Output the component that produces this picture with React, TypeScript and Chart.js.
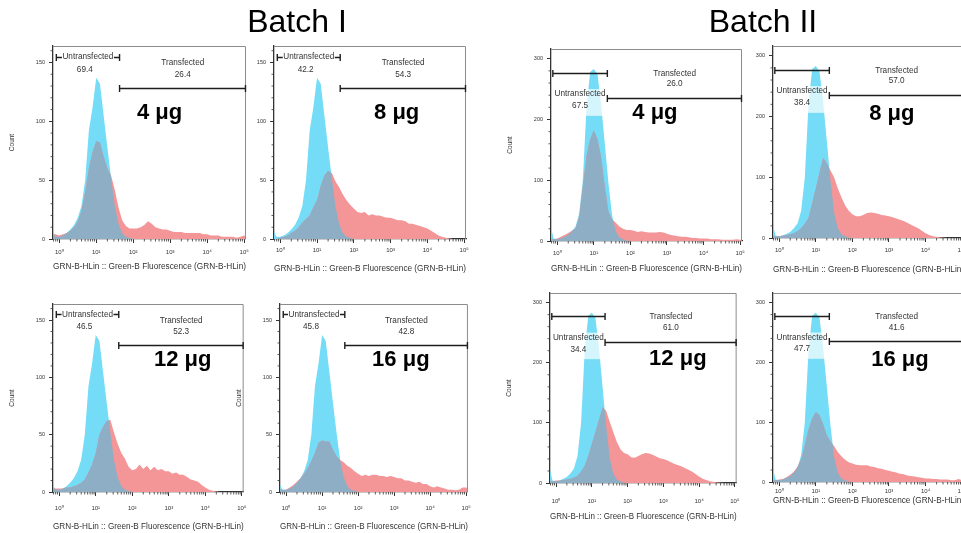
import React, { useEffect, useRef } from 'react';
import { Chart, registerables } from 'chart.js';

Chart.register(...registerables);

// ---------------- DATA ----------------
// histogram bin positions (log10 of Green-B fluorescence)
const logBins = [-0.2, -0.1, 0, 0.1, 0.2, 0.3, 0.4, 0.5, 0.6, 0.7, 0.8, 0.9, 1.0, 1.1, 1.2, 1.3, 1.4, 1.5, 1.6, 1.7, 1.8, 1.9,
  2.0, 2.1, 2.2, 2.3, 2.4, 2.5, 2.6, 2.7, 2.8, 2.9, 3.0, 3.1, 3.2, 3.3, 3.4, 3.5, 3.6, 3.7, 3.8, 3.9,
  4.0, 4.1, 4.2, 4.3, 4.4, 4.5, 4.6, 4.7, 4.8, 4.9, 5.0, 5.1];

// untransfected control (cyan), Batch I
const controlBatch1 = [8, 2, 2, 3, 5, 8, 12, 18, 28, 50, 92, 112, 137, 132, 105, 78, 52, 28, 13, 5, 2, 1,
  0, 0, 0, 0, 0, 0, 0, 0, 0, 0, 0, 0, 0, 0, 0, 0, 0, 0, 0, 0,
  0, 0, 0, 0, 0, 0, 0, 0, 0, 0, 0, 0];
// untransfected control (cyan), Batch II
const controlBatch2 = [30, 4, 3, 4, 7, 10, 16, 24, 45, 100, 220, 278, 283, 275, 225, 160, 95, 42, 16, 6, 3, 1,
  0, 0, 0, 0, 0, 0, 0, 0, 0, 0, 0, 0, 0, 0, 0, 0, 0, 0, 0, 0,
  0, 0, 0, 0, 0, 0, 0, 0, 0, 0, 0, 0];

// transfected samples (red)
const batch1_4ug = [4, 4, 3, 4, 5, 7, 10, 15, 24, 40, 60, 74, 83, 82, 70, 60, 54, 42, 27, 16, 11, 9,
  9, 9, 10, 12, 15, 13, 10, 9, 8, 8, 7, 6, 6, 6, 5, 5, 5, 5, 5, 4,
  4, 3, 3, 3, 2, 2, 2, 2, 1, 2, 3, 0];
const batch1_8ug = [0, 0, 1, 2, 3, 5, 7, 10, 14, 17, 20, 27, 33, 45, 54, 58, 56, 49, 44, 38, 33, 29,
  26, 23, 22, 23, 20, 21, 20, 20, 19, 18, 18, 17, 16, 16, 15, 13, 13, 12, 11, 10,
  9, 7, 5, 3, 2, 1, 0.5, 0, 0, 0, 0, 0];
const batch1_12ug = [3, 3, 3, 3, 4, 4, 5, 6, 8, 11, 17, 24, 34, 50, 57, 62, 63, 52, 42, 34, 29, 22,
  19, 20, 24, 20, 23, 19, 22, 19, 20, 18, 18, 16, 17, 15, 15, 13, 11, 10, 9, 6,
  4, 2, 1, 0.5, 0, 0, 0, 0, 0, 0, 0, 0];
const batch1_16ug = [2, 2, 2, 4, 6, 9, 12, 16, 21, 27, 34, 43, 45, 44, 44, 37, 31, 28, 26, 23, 21, 18,
  16, 14, 15, 14, 15, 15, 14, 14, 13, 14, 13, 12, 12, 10, 10, 9, 8, 9, 7, 7,
  5, 4, 5, 4, 3, 2, 2, 1.5, 2, 4, 4, 0];
const batch2_4ug = [3, 3, 4, 7, 10, 13, 17, 20, 40, 90, 140, 168, 182, 168, 138, 90, 48, 36, 30, 24, 20, 18,
  18, 17, 15, 16, 15, 14, 14, 14, 15, 14, 12, 10, 9, 8, 7, 7, 6, 5, 5, 4,
  4, 4, 3, 3, 3, 2, 2, 2, 2, 3, 2, 1];
const batch2_8ug = [3, 3, 3, 4, 5, 6, 8, 11, 16, 24, 33, 57, 82, 108, 132, 123, 111, 100, 82, 67, 54, 45,
  39, 36, 36, 38, 41, 42, 41, 40, 38, 37, 36, 34, 32, 30, 28, 25, 22, 19, 16, 12,
  8, 5, 3, 2, 1, 0.5, 0, 0, 0, 0, 0, 0];
const batch2_12ug = [3, 3, 4, 4, 5, 6, 7, 9, 12, 19, 29, 45, 65, 85, 105, 126, 120, 102, 85, 68, 56, 50,
  48, 43, 42, 45, 48, 50, 49, 47, 44, 41, 40, 38, 35, 32, 30, 28, 25, 22, 19, 15,
  11, 7, 5, 3, 2, 1, 0.5, 0, 0, 0, 0, 0];
const batch2_16ug = [3, 3, 4, 5, 8, 12, 17, 26, 38, 62, 88, 106, 117, 112, 97, 78, 68, 60, 50, 43, 37, 33,
  31, 29, 28, 28, 28, 26, 25, 23, 22, 20, 19, 17, 16, 14, 13, 11, 10, 9, 8, 7,
  6, 6, 5, 5, 4, 4, 4, 3, 3, 5, 3, 2];

const doseLabels = ['4 μg', '8 μg', '12 μg', '16 μg'];
const batchTitles = ['Batch I', 'Batch II'];
const untransPctBatch1 = ['69.4', '42.2', '46.5', '45.8'];
const transPctBatch1 = ['26.4', '54.3', '52.3', '42.8'];
const untransPctBatch2 = ['67.5', '38.4', '34.4', '47.7'];
const transPctBatch2 = ['26.0', '57.0', '61.0', '41.6'];
const xTickExponents = [0, 1, 2, 3, 4, 5];

// gates (data space: [log start, log end], bar height in counts)
const untransGateBatch1 = [-0.08, 1.63, 155];
const transGateBatch1 = [1.63, 5.05, 128.5];
const untransGateBatch2 = [-0.12, 1.37, 277];
const transGateBatch2 = [1.37, 5.05, 235];

// ---------------- STYLE / LAYOUT ----------------
const FONT = '"Liberation Sans", Arial, Helvetica, sans-serif';
const CYAN = '#74DCF6';
const RED = '#F49597';
const OVERLAP = '#8DAEC4';
const X_MIN = -0.17;
const X_MAX = 5.05;
const X_TITLE = 'GRN-B-HLin :: Green-B Fluorescence (GRN-B-HLin)';
const SUP: Record<number, string> = { 0: '⁰', 1: '¹', 2: '²', 3: '³', 4: '⁴', 5: '⁵' };

const BATCHES = [
  { control: controlBatch1, yMax: 164, yStep: 50, yMinor: 10, untrans: untransGateBatch1, trans: transGateBatch1,
    untransPct: untransPctBatch1, transPct: transPctBatch1, inline: true,
    labelY: { untransText: 155, untransPct: 144, transText: 149.5, transPct: 139.5 }, pctX: 0.69 },
  { control: controlBatch2, yMax: 316, yStep: 100, yMinor: 20, untrans: untransGateBatch2, trans: transGateBatch2,
    untransPct: untransPctBatch2, transPct: transPctBatch2, inline: false,
    labelY: { untransText: 242, untransPct: 222, transText: 276, transPct: 258 }, pctX: null },
];

const SAMPLES = [
  [batch1_4ug, batch1_8ug, batch1_12ug, batch1_16ug],
  [batch2_4ug, batch2_8ug, batch2_12ug, batch2_16ug],
];

const PANELS = [
  { batch: 0, dose: 0, L: 53, T: 46, R: 247, B: 239, count: true, doseAt: [0.552, 0.346], lab: 13.7, tit: 28 },
  { batch: 0, dose: 1, L: 274, T: 46, R: 466, B: 239, count: false, doseAt: [0.639, 0.346], lab: 11.7, tit: 30.3 },
  { batch: 1, dose: 0, L: 551, T: 49, R: 742, B: 241, count: true, doseAt: [0.544, 0.334], lab: 12.3, tit: 28.3 },
  { batch: 1, dose: 1, L: 773, T: 46, R: 964, B: 238, count: false, doseAt: [0.622, 0.354], lab: 12.7, tit: 31.7 },
  { batch: 0, dose: 2, L: 53, T: 304, R: 247, B: 492, count: true, doseAt: [0.68, 0.297], lab: 16, tit: 34.4 },
  { batch: 0, dose: 3, L: 280, T: 304, R: 472, B: 492, count: true, doseAt: [0.643, 0.298], lab: 16.7, tit: 35 },
  { batch: 1, dose: 2, L: 550, T: 293, R: 742, B: 483, count: true, doseAt: [0.685, 0.349], lab: 18, tit: 34 },
  { batch: 1, dose: 3, L: 773, T: 293, R: 964, B: 482, count: false, doseAt: [0.665, 0.356], lab: 9.5, tit: 19 },
];

const TICK_LEN = 4;
const X_TICK_FONT = 6;
const X_TITLE_FONT = 8.5;

function makeOverlayPlugin(p: any) {
  const bt = BATCHES[p.batch];
  return {
    id: 'flowOverlay',
    afterDatasetsDraw(chart: any) {
      const { ctx, chartArea: ca, scales } = chart;
      const xs = scales.x, ys = scales.y;
      const y0 = ys.getPixelForValue(0);
      const areaPath = (idx: number) => {
        const pts = chart.getDatasetMeta(idx).data;
        const path = new Path2D();
        path.moveTo(pts[0].x, y0);
        for (const pt of pts) path.lineTo(pt.x, pt.y);
        path.lineTo(pts[pts.length - 1].x, y0);
        path.closePath();
        return path;
      };
      // overlap of sample and control histograms
      ctx.save();
      ctx.beginPath();
      ctx.rect(ca.left, ca.top, ca.right - ca.left, ca.bottom - ca.top);
      ctx.clip();
      ctx.clip(areaPath(0));
      ctx.fillStyle = OVERLAP;
      ctx.fill(areaPath(1));
      ctx.restore();

      // pale label box (Batch II)
      if (!bt.inline) {
        ctx.save();
        ctx.font = `8.2px ${FONT}`;
        const w = ctx.measureText('Untransfected').width + 4;
        const cx = xs.getPixelForValue((bt.untrans[0] + bt.untrans[1]) / 2);
        const yt = ys.getPixelForValue(bt.labelY.untransText + 8);
        const yb = ys.getPixelForValue(bt.labelY.untransPct - 16);
        ctx.fillStyle = 'rgba(255,255,255,0.7)';
        ctx.fillRect(cx - w / 2, yt, w, yb - yt);
        ctx.restore();
      }
    },
    afterDraw(chart: any) {
      const { ctx, chartArea: ca, scales } = chart;
      const xs = scales.x, ys = scales.y;
      ctx.save();
      // box (top and right)
      ctx.strokeStyle = '#8c8c8c';
      ctx.lineWidth = 1;
      ctx.beginPath();
      ctx.moveTo(ca.left, ca.top + 0.5);
      ctx.lineTo(ca.right - 0.5, ca.top + 0.5);
      ctx.lineTo(ca.right - 0.5, ca.bottom);
      ctx.stroke();

      // minor ticks
      ctx.strokeStyle = '#333';
      ctx.lineWidth = 0.8;
      ctx.beginPath();
      for (let e = -1; e <= 5; e++) {
        for (let k = 2; k <= 9; k++) {
          const v = e + Math.log10(k);
          if (v < X_MIN || v > X_MAX) continue;
          const px = xs.getPixelForValue(v);
          ctx.moveTo(px, ca.bottom);
          ctx.lineTo(px, ca.bottom + 2.5);
        }
      }
      for (let v = bt.yMinor; v < bt.yMax; v += bt.yMinor) {
        if (v % bt.yStep === 0) continue;
        const py = ys.getPixelForValue(v);
        ctx.moveTo(ca.left - 2.5, py);
        ctx.lineTo(ca.left, py);
      }
      ctx.stroke();

      // gates
      const drawGate = (g: number[]) => {
        const px0 = xs.getPixelForValue(g[0]);
        const px1 = Math.min(xs.getPixelForValue(g[1]), ca.right - 0.5);
        const py = Math.round(ys.getPixelForValue(g[2])) + 0.5;
        ctx.strokeStyle = '#1e1e1e';
        ctx.lineWidth = 1.4;
        ctx.beginPath();
        ctx.moveTo(px0, py);
        ctx.lineTo(px1, py);
        ctx.moveTo(px0, py - 3.5);
        ctx.lineTo(px0, py + 3.5);
        ctx.moveTo(px1, py - 3.5);
        ctx.lineTo(px1, py + 3.5);
        ctx.stroke();
      };
      drawGate(bt.untrans);
      drawGate(bt.trans);

      const text = (s: string, xv: number, yv: number, bg?: boolean) => {
        const px = xs.getPixelForValue(xv);
        const py = ys.getPixelForValue(yv);
        ctx.font = `8.2px ${FONT}`;
        ctx.textAlign = 'center';
        ctx.textBaseline = 'middle';
        if (bg) {
          const w = ctx.measureText(s).width + 1;
          ctx.fillStyle = '#fff';
          ctx.fillRect(px - w / 2, py - 4, w, 8);
        }
        ctx.fillStyle = '#333';
        ctx.fillText(s, px, py);
      };
      const uMid = (bt.untrans[0] + bt.untrans[1]) / 2;
      const tMid = (bt.trans[0] + bt.trans[1]) / 2;
      text('Untransfected', uMid, bt.labelY.untransText, bt.inline);
      text(bt.untransPct[p.dose], bt.pctX ?? uMid, bt.labelY.untransPct);
      text('Transfected', tMid, bt.labelY.transText);
      text(bt.transPct[p.dose], tMid, bt.labelY.transPct);

      // dose label
      ctx.font = `bold 22px ${FONT}`;
      ctx.fillStyle = '#000';
      ctx.textAlign = 'center';
      ctx.textBaseline = 'middle';
      ctx.fillText(doseLabels[p.dose], ca.left + p.doseAt[0] * (ca.right - ca.left), ca.top + p.doseAt[1] * (ca.bottom - ca.top));
      ctx.restore();
    },
  };
}

function Panel({ p }: { p: any }) {
  const ref = useRef<HTMLCanvasElement>(null);
  const bt = BATCHES[p.batch];
  const xH = Math.round(p.tit + (X_TITLE_FONT * 1.2) / 2);
  const left = p.L - 50;
  const top = p.T - 8;
  const width = p.R - p.L + 58;
  const height = p.B - p.T + 8 + xH + 2;

  useEffect(() => {
    const sample = SAMPLES[p.batch][p.dose];
    const chart = new Chart(ref.current as HTMLCanvasElement, {
      type: 'line',
      data: {
        datasets: [
          {
            data: logBins.map((x, i) => ({ x, y: sample[i] })),
            backgroundColor: RED, borderColor: 'rgba(0,0,0,0)', borderWidth: 0,
            fill: 'origin', pointRadius: 0, tension: 0,
          },
          {
            data: logBins.map((x, i) => ({ x, y: bt.control[i] })),
            backgroundColor: CYAN, borderColor: 'rgba(0,0,0,0)', borderWidth: 0,
            fill: 'origin', pointRadius: 0, tension: 0,
          },
        ],
      },
      options: {
        responsive: false,
        animation: false,
        devicePixelRatio: 1,
        events: [],
        layout: { padding: { left: 5, top: 8, right: 8, bottom: 2 } },
        plugins: { legend: { display: false }, tooltip: { enabled: false } },
        scales: {
          x: {
            type: 'linear',
            min: X_MIN,
            max: X_MAX,
            afterFit: (s: any) => { s.height = xH; },
            afterBuildTicks: (s: any) => { s.ticks = xTickExponents.map((v) => ({ value: v })); },
            ticks: {
              autoSkip: false, maxRotation: 0, includeBounds: false,
              padding: Math.max(0, p.lab - TICK_LEN - X_TICK_FONT / 2 - 0.5),
              font: { family: FONT, size: X_TICK_FONT }, color: '#333',
              callback: (v: any) => '10' + SUP[Math.round(Number(v))],
            },
            grid: { display: true, drawOnChartArea: false, drawTicks: true, tickLength: TICK_LEN, color: '#333', lineWidth: 1 },
            border: { display: true, color: '#333', width: 1.3 },
            title: { display: true, text: X_TITLE, color: '#333', font: { family: FONT, size: X_TITLE_FONT }, padding: { top: 0, bottom: 0 } },
          },
          y: {
            type: 'linear',
            min: 0,
            max: bt.yMax,
            afterFit: (s: any) => { s.width = 45; },
            ticks: {
              stepSize: bt.yStep, includeBounds: false, padding: 4,
              font: { family: FONT, size: 5.5 }, color: '#333',
            },
            grid: { display: true, drawOnChartArea: false, drawTicks: true, tickLength: TICK_LEN, color: '#333', lineWidth: 1 },
            border: { display: true, color: '#333', width: 1.3 },
            title: { display: p.count, text: 'Count', color: '#333', font: { family: FONT, size: 6.5 }, padding: { top: 0, bottom: 0 } },
          },
        },
      } as any,
      plugins: [makeOverlayPlugin(p)],
    });
    return () => chart.destroy();
  }, []);

  return (
    <canvas
      ref={ref}
      width={width}
      height={height}
      style={{ position: 'absolute', left, top, width, height }}
    />
  );
}

export default function App() {
  return (
    <div style={{ position: 'absolute', left: 0, top: 0, width: 961, height: 533, overflow: 'hidden', background: '#fff' }}>
      {PANELS.map((p, i) => (
        <Panel key={i} p={p} />
      ))}
      {[297, 763].map((cx, i) => (
        <div
          key={'t' + i}
          style={{
            position: 'absolute', left: cx - 100, top: 4.6, width: 200, textAlign: 'center',
            fontFamily: FONT, fontSize: 32, lineHeight: '32px', color: '#000', whiteSpace: 'nowrap',
          }}
        >
          {batchTitles[i]}
        </div>
      ))}
    </div>
  );
}
